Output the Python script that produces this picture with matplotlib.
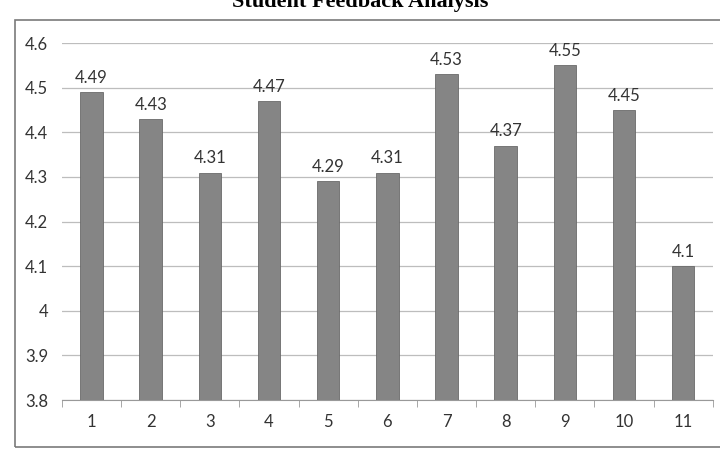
import matplotlib
matplotlib.use("Agg")
import matplotlib.pyplot as plt
from matplotlib.patches import Rectangle
import numpy as np

# Student feedback scores per question
categories = ["1", "2", "3", "4", "5", "6", "7", "8", "9", "10", "11"]
scores = [4.49, 4.43, 4.31, 4.47, 4.29, 4.31, 4.53, 4.37, 4.55, 4.45, 4.1]
value_labels = ["4.49", "4.43", "4.31", "4.47", "4.29", "4.31", "4.53", "4.37", "4.55", "4.45", "4.1"]
yticks = [3.8, 3.9, 4.0, 4.1, 4.2, 4.3, 4.4, 4.5, 4.6]
ytick_labels = ["3.8", "3.9", "4", "4.1", "4.2", "4.3", "4.4", "4.5", "4.6"]

plt.rcParams["font.family"] = ["Lato", "DejaVu Sans"]

fig = plt.figure(figsize=(7.2, 4.49), dpi=100)
ax = fig.add_axes([0.086, 0.109, 0.904, 0.795])

# outer chart frame
fig.patches.append(Rectangle((0.021, 0.004), 1.2, 0.951, transform=fig.transFigure,
                             fill=False, edgecolor="#7a7a7a", lw=1.2, zorder=0))

x = np.arange(len(categories))
ax.bar(x, scores, width=0.38, bottom=0, color="#858585", edgecolor="#6a6a6a", lw=0.6, zorder=3)
for xi, v, lab in zip(x, scores, value_labels):
    ax.text(xi, v + 0.014, lab, ha="center", va="bottom", fontsize=12, color="#333333")

ax.set_ylim(3.8, 4.6)
ax.set_xlim(-0.5, len(categories) - 0.5)
ax.set_yticks(yticks)
ax.set_yticklabels(ytick_labels, fontsize=12, color="#333333")
ax.set_xticks(x)
ax.set_xticklabels(categories, fontsize=12, color="#333333")
ax.set_xticks(np.arange(-0.5, len(categories), 1.0), minor=True)
ax.tick_params(axis="x", which="major", length=0, pad=10)
ax.tick_params(axis="x", which="minor", length=5, color="#999999", direction="out")
ax.tick_params(axis="y", length=0, pad=10)
ax.grid(axis="y", color="#bdbdbd", lw=0.9, zorder=0)
for side in ("top", "right", "left"):
    ax.spines[side].set_visible(False)
ax.spines["bottom"].set_color("#999999")

fig.text(0.5, 0.985, "Student Feedback Analysis", ha="center", va="baseline",
         fontsize=16, fontweight="bold", family="Liberation Serif")

fig.savefig("out.png", dpi=100)
